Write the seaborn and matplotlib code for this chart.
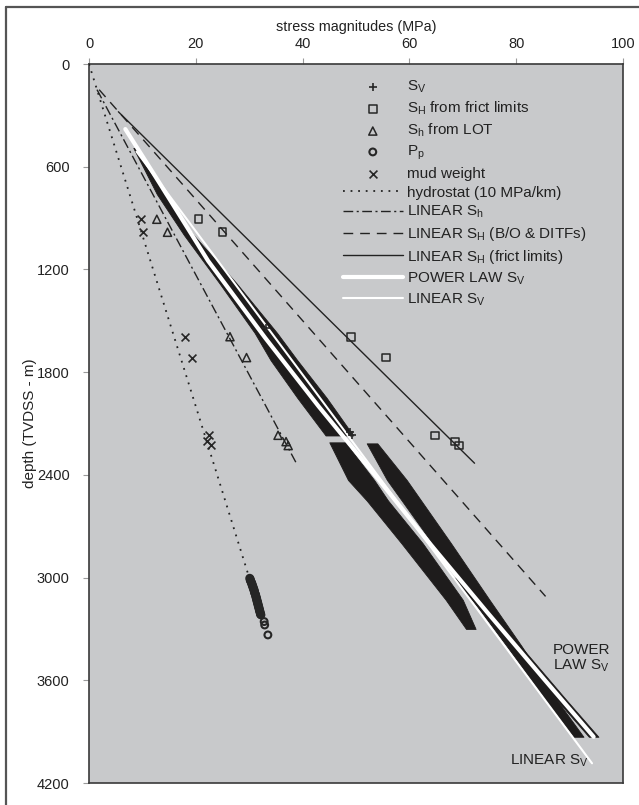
import matplotlib
matplotlib.use("Agg")
import matplotlib.pyplot as plt
from matplotlib.lines import Line2D
import pandas as pd
import seaborn as sns

# ---- stress profiles (MPa) against depth (m TVDSS) ----
hydro_depth = [0, 3000]
hydro_mpa = [0.0, 30.0]

lin_sh_depth = [150, 2342]
lin_sh_mpa = [1.5, 39.0]

lin_SH_bo_depth = [150, 3110]
lin_SH_bo_mpa = [1.9, 85.5]

lin_SH_fr_depth = [279, 2332]
lin_SH_fr_mpa = [5.5, 72.2]

power_sv_depth = [380, 700, 1150, 1600, 2000, 2430, 2800, 3200, 3600, 3930]
power_sv_mpa = [6.8, 13.3, 22.3, 33.0, 43.0, 54.3, 63.8, 74.5, 85.4, 94.5]

lin_sv_depth = [512, 4085]
lin_sv_mpa = [8.9, 94.2]

# ---- overburden (Sv) from density logs: min / max envelope per well ----
wellA_depth = [490, 760, 1000, 1280, 1570, 1730, 1950, 2170]
wellA_lo = [8.3, 12.7, 17.8, 24.4, 31.0, 34.0, 39.0, 44.3]
wellA_hi = [8.9, 14.0, 19.6, 27.6, 35.2, 39.0, 44.5, 49.5]

wellB_depth = [2210, 2430, 2550, 2800, 3130, 3300]
wellB_lo = [45.0, 48.5, 52.0, 58.5, 66.8, 70.6]
wellB_hi = [48.0, 53.4, 56.0, 62.5, 70.0, 72.4]

wellC_depth = [2216, 2430, 2800, 3130, 3400, 3715, 3930]
wellC_lo = [52.0, 55.8, 64.3, 71.8, 78.2, 85.6, 90.8]
wellC_hi = [54.0, 59.5, 67.8, 75.0, 81.0, 87.6, 92.6]

wellD_depth = [3000, 3400, 3715, 3930]
wellD_lo = [68.2, 79.0, 87.6, 93.6]
wellD_hi = [70.0, 80.8, 89.4, 95.4]

# ---- point measurements ----
sv_depth = [1544, 2147, 2165]
sv_mpa = [33.1, 48.9, 49.3]

shfr_depth = [905, 983, 1593, 1715, 2171, 2206, 2229]
shfr_mpa = [20.5, 25.0, 49.1, 55.6, 64.8, 68.5, 69.3]

lot_depth = [907, 983, 1593, 1715, 2169, 2206, 2229]
lot_mpa = [12.7, 14.7, 26.4, 29.5, 35.4, 36.9, 37.3]

pp_depth = [3004, 3010, 3016, 3022, 3028, 3034, 3040, 3046, 3052, 3058, 3064,
            3070, 3076, 3082, 3088, 3094, 3100, 3106, 3112, 3118, 3124, 3130,
            3136, 3142, 3148, 3154, 3160, 3166, 3172, 3178, 3184, 3190, 3196,
            3202, 3208, 3214, 3218, 3257, 3277, 3335]
pp_mpa = [30.1, 30.2, 30.2, 30.3, 30.4, 30.5, 30.5, 30.6, 30.7, 30.7, 30.8,
          30.9, 30.9, 31.0, 31.0, 31.1, 31.2, 31.2, 31.3, 31.3, 31.4, 31.4,
          31.5, 31.5, 31.6, 31.6, 31.7, 31.7, 31.8, 31.8, 31.9, 31.9, 32.0,
          32.0, 32.1, 32.1, 32.2, 32.8, 32.9, 33.5]

mud_depth = [905, 983, 1593, 1715, 2169, 2200, 2227]
mud_mpa = [9.7, 10.1, 18.0, 19.2, 22.4, 22.1, 22.9]

x_ticks = [0, 20, 40, 60, 80, 100]
y_ticks = [0, 600, 1200, 1800, 2400, 3000, 3600, 4200]

sns.set_theme(style="ticks")
plt.rcParams["font.family"] = ["Liberation Sans", "DejaVu Sans"]
plt.rcParams["mathtext.fontset"] = "custom"
plt.rcParams["mathtext.rm"] = "Liberation Sans"
plt.rcParams["mathtext.it"] = "Liberation Sans:italic"
plt.rcParams["mathtext.bf"] = "Liberation Sans:bold"

W, H = 639, 805
fig = plt.figure(figsize=(W / 100, H / 100), dpi=100)
fig.patch.set_facecolor("white")
ax_l, ax_r, ax_t, ax_b = 89, 623, 64, 783
ax = fig.add_axes([ax_l / W, 1 - ax_b / H, (ax_r - ax_l) / W, (ax_b - ax_t) / H])
ax.set_facecolor("#c8c9cb")

band_col = "#1e1c1c"
for d, lo, hi in [(wellA_depth, wellA_lo, wellA_hi),
                  (wellB_depth, wellB_lo, wellB_hi),
                  (wellC_depth, wellC_lo, wellC_hi),
                  (wellD_depth, wellD_lo, wellD_hi)]:
    ax.fill_betweenx(d, lo, hi, color=band_col, lw=0.6, ec=band_col, zorder=2)

def line(xv, yv, **kw):
    df = pd.DataFrame({"mpa": xv, "depth": yv})
    sns.lineplot(data=df, x="mpa", y="depth", sort=False, estimator=None,
                 ax=ax, **kw)

line(hydro_mpa, hydro_depth, color="#222222", lw=1.3,
     linestyle=(0, (1, 3.2)), label="hydrostat (10 MPa/km)", zorder=3)
line(lin_sh_mpa, lin_sh_depth, color="#222222", lw=1.0,
     linestyle=(0, (7, 2.5, 1.5, 2.5)), label=r"LINEAR S$_\mathrm{h}$", zorder=3)
line(lin_SH_bo_mpa, lin_SH_bo_depth, color="#222222", lw=1.0,
     linestyle=(0, (7, 5)), label=r"LINEAR S$_\mathrm{H}$ (B/O & DITFs)", zorder=3)
line(lin_SH_fr_mpa, lin_SH_fr_depth, color="#222222", lw=1.0,
     label=r"LINEAR S$_\mathrm{H}$ (frict limits)", zorder=3)
line(power_sv_mpa, power_sv_depth, color="white", lw=3.0,
     label=r"POWER LAW S$_\mathrm{V}$", zorder=4)
line(lin_sv_mpa, lin_sv_depth, color="white", lw=1.5,
     label=r"LINEAR S$_\mathrm{V}$", zorder=4)

mk_col = "#262626"
sns.scatterplot(x=sv_mpa, y=sv_depth, marker="+", color=mk_col, s=40,
                linewidth=1.2, ax=ax, label=r"S$_\mathrm{V}$", zorder=5)
sns.scatterplot(x=shfr_mpa, y=shfr_depth, marker="s", facecolor="none",
                edgecolor=mk_col, s=30, linewidth=1.1, ax=ax,
                label=r"S$_\mathrm{H}$ from frict limits", zorder=5)
sns.scatterplot(x=lot_mpa, y=lot_depth, marker="^", facecolor="none",
                edgecolor=mk_col, s=34, linewidth=1.1, ax=ax,
                label=r"S$_\mathrm{h}$ from LOT", zorder=5)
sns.scatterplot(x=pp_mpa, y=pp_depth, marker="o", facecolor="none",
                edgecolor=mk_col, s=24, linewidth=1.5, ax=ax,
                label=r"P$_\mathrm{p}$", zorder=5)
sns.scatterplot(x=mud_mpa, y=mud_depth, marker="x", color=mk_col, s=32,
                linewidth=1.2, ax=ax, label="mud weight", zorder=5)

ax.set_xlim(0, 100)
ax.set_ylim(4200, 0)
ax.set_xticks(x_ticks)
ax.set_yticks(y_ticks)
ax.xaxis.tick_top()
ax.xaxis.set_label_position("top")
ax.set_xlabel("stress magnitudes (MPa)", fontsize=10.4, color="#222222", labelpad=5)
ax.set_ylabel("depth (TVDSS - m)", fontsize=11, color="#222222")
ax.yaxis.set_label_coords(-0.098, 0.5)
ax.tick_params(axis="x", direction="out", length=4, width=0.8, color="#9a9a9a",
               labelsize=10.5, labelcolor="#222222", pad=5)
ax.tick_params(axis="y", direction="out", length=4, width=0.8, color="#9a9a9a",
               labelsize=10.5, labelcolor="#222222", pad=10)
for sp in ax.spines.values():
    sp.set_visible(True)
    sp.set_color("#3a3a3a")
    sp.set_linewidth(1.2)

handles, labels = ax.get_legend_handles_labels()
order = [r"S$_\mathrm{V}$", r"S$_\mathrm{H}$ from frict limits",
         r"S$_\mathrm{h}$ from LOT", r"P$_\mathrm{p}$", "mud weight",
         "hydrostat (10 MPa/km)", r"LINEAR S$_\mathrm{h}$",
         r"LINEAR S$_\mathrm{H}$ (B/O & DITFs)",
         r"LINEAR S$_\mathrm{H}$ (frict limits)",
         r"POWER LAW S$_\mathrm{V}$", r"LINEAR S$_\mathrm{V}$"]
hmap = dict(zip(labels, handles))
leg = ax.legend([hmap[k] for k in order], order, loc="upper left",
                bbox_to_anchor=((343 - ax_l) / (ax_r - ax_l), 0.979),
                frameon=False, fontsize=11, handlelength=3.9,
                handletextpad=0.3, labelspacing=0.30, borderpad=0,
                borderaxespad=0, markerscale=1.0)
for t in leg.get_texts():
    t.set_color("#222222")

ax.text(86.9, 3380, "POWER\nLAW S$_\\mathrm{V}$", fontsize=11, color="#222222",
        ha="left", va="top", linespacing=1.05, zorder=6)
ax.text(78.8, 4071, "LINEAR S$_\\mathrm{V}$", fontsize=11, color="#222222",
        ha="left", va="center", zorder=6)

# outer frame on the left and top edges
fig.add_artist(Line2D([6 / W, 6 / W], [0, 1 - 7 / H], transform=fig.transFigure,
                      color="#555555", lw=1.6))
fig.add_artist(Line2D([6 / W, 1], [1 - 7 / H, 1 - 7 / H], transform=fig.transFigure,
                      color="#555555", lw=1.6))

fig.savefig("out.png", dpi=100)
